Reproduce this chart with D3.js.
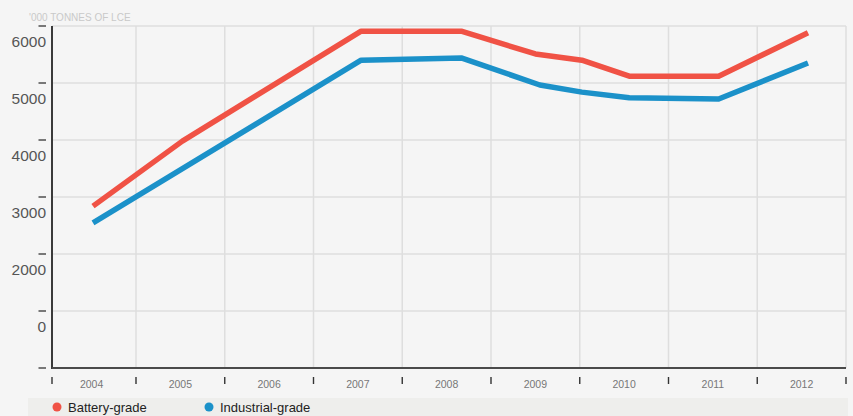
<!DOCTYPE html>
<html>
<head>
<meta charset="utf-8">
<script src="https://cdn.jsdelivr.net/npm/d3@7/dist/d3.min.js"></script>
<style>
  html, body { margin: 0; padding: 0; background: #f5f5f5; }
  svg { display: block; font-family: "Liberation Sans", Arial, Helvetica, sans-serif; }
</style>
</head>
<body>
<svg id="chart" width="853" height="416"></svg>
<script>
// ---- data ----
const years = ["2004", "2005", "2006", "2007", "2008", "2009", "2010", "2011", "2012"];
const yTickValues = [6000, 5000, 4000, 3000, 2000, 1000, 0];
const yTickLabels = ["6000", "5000", "4000", "3000", "2000", "0", ""];
const axisTitle = "'000 TONNES OF LCE";

const batteryX = [2004, 2005, 2007, 2008.12, 2008.95, 2009.47, 2010, 2011, 2012];
const batteryY = [2840, 3980, 5910, 5910, 5510, 5400, 5120, 5120, 5880];
const industrialX = [2004, 2007, 2008.12, 2009, 2009.47, 2010, 2011, 2012];
const industrialY = [2545, 5400, 5440, 4965, 4840, 4740, 4720, 5350];

const seriesNames = ["Battery-grade", "Industrial-grade"];
const seriesColors = ["#f05245", "#1b91c9"];

// ---- layout ----
const svg = d3.select("#chart");
const mLeft = 52, mRight = 846, mTop = 26, mBottom = 368;

const x = d3.scaleLinear().domain([2004, 2012]).range([93, 808]);
const xBand = d3.scaleBand().domain(years).range([47.25, 846]);
const y = d3.scaleLinear().domain([0, 6000]).range([mBottom, mTop]);

// gridlines
const grid = svg.append("g");
grid.selectAll("line.h").data(yTickValues.filter(v => v > 0)).enter().append("line")
  .attr("x1", mLeft).attr("x2", mRight)
  .attr("y1", d => y(d)).attr("y2", d => y(d))
  .attr("stroke", "#dedede").attr("stroke-width", 1.5);
const bounds = years.slice(1).map(d => xBand(d)).concat([xBand.range()[1]]);
grid.selectAll("line.v").data(bounds).enter().append("line")
  .attr("x1", d => d).attr("x2", d => d)
  .attr("y1", mTop).attr("y2", mBottom)
  .attr("stroke", "#dedede").attr("stroke-width", 1.5);

// axis title
svg.append("text").attr("x", 29).attr("y", 20.5)
  .attr("font-size", 10).attr("fill", "#c9c9c9").text(axisTitle);

// y axis ticks + labels
const yAxis = svg.append("g");
yAxis.selectAll("line").data(yTickValues).enter().append("line")
  .attr("x1", 38.5).attr("x2", 46)
  .attr("y1", d => y(d)).attr("y2", d => y(d))
  .attr("stroke", "#333").attr("stroke-width", 1.3);
yAxis.selectAll("text").data(yTickValues).enter().append("text")
  .attr("x", 46).attr("y", d => y(d) + 21)
  .attr("text-anchor", "end").attr("font-size", 15.5).attr("fill", "#555")
  .text((d, i) => yTickLabels[i]);

// x axis ticks + labels
const xAxis = svg.append("g");
const tickPos = [mLeft].concat(bounds);
xAxis.selectAll("line").data(tickPos).enter().append("line")
  .attr("x1", d => d).attr("x2", d => d)
  .attr("y1", 377).attr("y2", 384)
  .attr("stroke", "#333").attr("stroke-width", 1.4);
xAxis.selectAll("text").data(years).enter().append("text")
  .attr("x", d => xBand(d) + xBand.bandwidth() / 2).attr("y", 387.5)
  .attr("text-anchor", "middle").attr("font-size", 10.5).attr("fill", "#777")
  .text(d => d);

// axis lines
svg.append("line").attr("x1", mLeft).attr("x2", mLeft).attr("y1", mTop).attr("y2", mBottom + 1)
  .attr("stroke", "#3a3a3a").attr("stroke-width", 2);
svg.append("line").attr("x1", mLeft).attr("x2", mRight).attr("y1", mBottom).attr("y2", mBottom)
  .attr("stroke", "#4a4a4a").attr("stroke-width", 2);

// lines
const line = d3.line().x(d => x(d[0])).y(d => y(d[1]));
const series = [
  d3.zip(batteryX, batteryY),
  d3.zip(industrialX, industrialY)
];
svg.selectAll("path.series").data(series).enter().append("path")
  .attr("class", "series")
  .attr("d", line)
  .attr("fill", "none")
  .attr("stroke", (d, i) => seriesColors[i])
  .attr("stroke-width", 5.5)
  .attr("stroke-linejoin", "round");

// legend
svg.append("rect").attr("x", 28).attr("y", 398).attr("width", 820).attr("height", 18)
  .attr("fill", "#eeeeec");
const legendX = [57, 209];
const lg = svg.selectAll("g.legend").data(seriesNames).enter().append("g")
  .attr("transform", (d, i) => `translate(${legendX[i]},407)`);
lg.append("circle").attr("r", 4.5).attr("fill", (d, i) => seriesColors[i]);
lg.append("text").attr("x", 11).attr("y", 5).attr("font-size", 13).attr("fill", "#222")
  .text(d => d);
</script>
</body>
</html>
